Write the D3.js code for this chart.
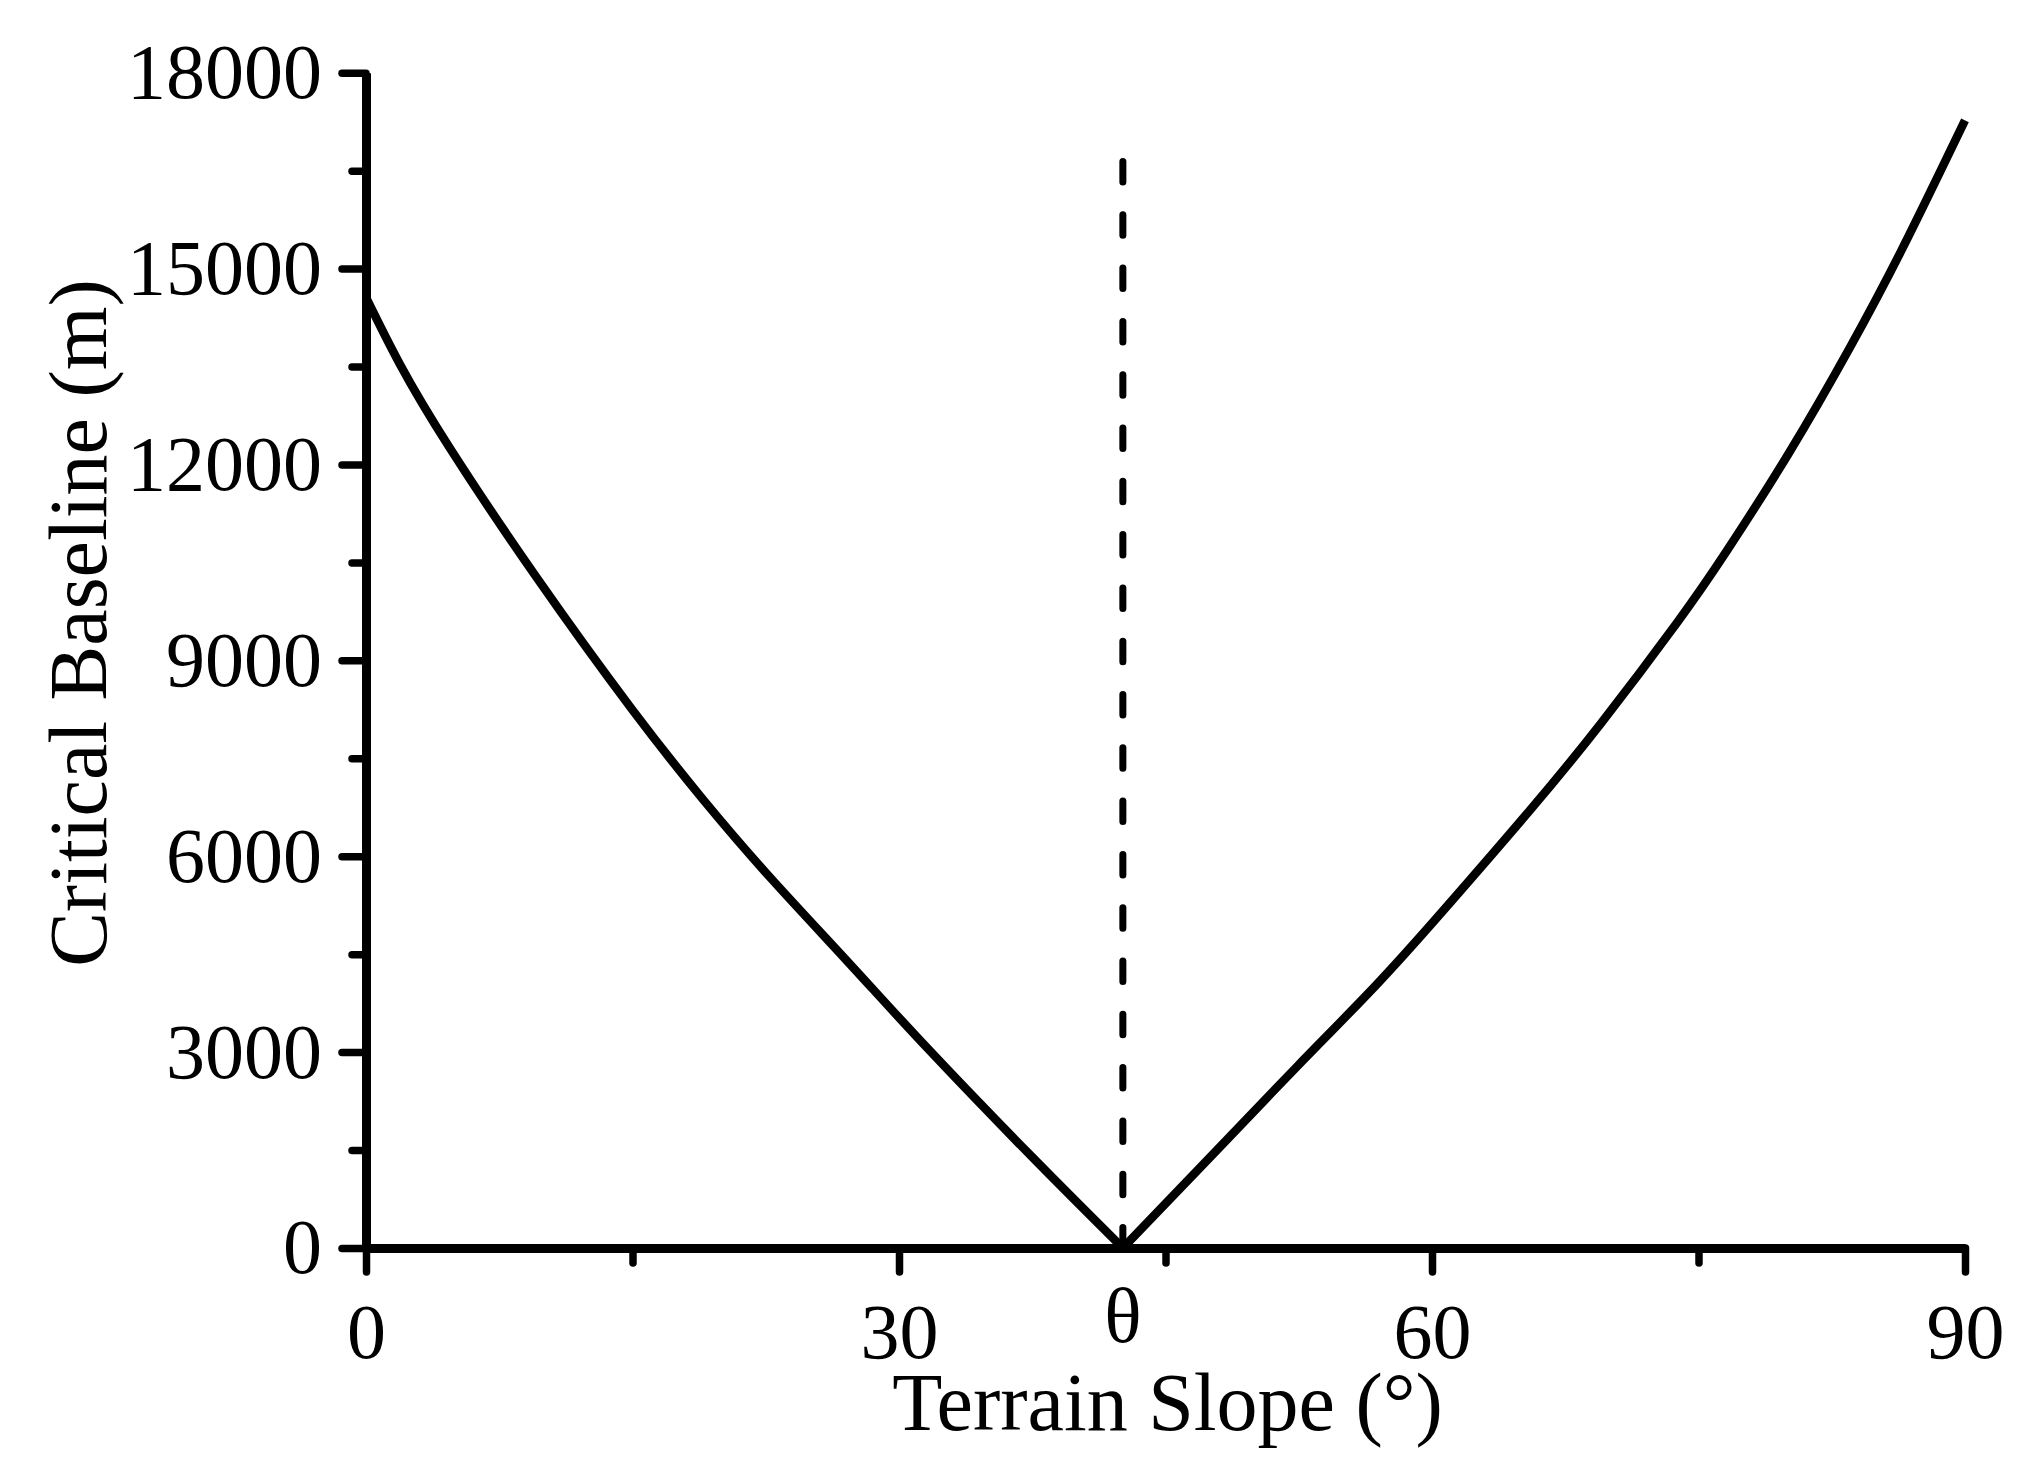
<!DOCTYPE html>
<html lang="en">
<head>
<meta charset="UTF-8">
<title>Critical Baseline vs Terrain Slope</title>
<script src="https://d3js.org/d3.v7.min.js"></script>
<style>
    body { margin: 0; background: #fff; }
    svg text { font-family: "Liberation Serif", "Times New Roman", serif; fill: #000; }
    .axis path, .axis line { stroke: #000; }
</style>
</head>
<body>
<div id="chart"></div>
<script>
    // values
    const slopeLeft = [0, 1.9, 4.7, 9.6, 15.0, 19.0, 22.7, 27.2, 31.6, 37.4, 42.6];
    const baselineLeft = [14560, 13540, 12260, 10270, 8240, 6860, 5690, 4360, 3060, 1420, 0];
    const slopeRight = [42.6, 47.9, 52.4, 56.9, 60.8, 65.5, 69.5, 73.8, 76.6, 80.1, 83.5, 86.5, 90];
    const baselineRight = [0, 1500, 2778, 4040, 5220, 6700, 8032, 9580, 10680, 12180, 13780, 15320, 17270];
    const xTicks = [0, 30, 60, 90];
    const xMinorTicks = [15, 45, 75];
    const yTicks = [0, 3000, 6000, 9000, 12000, 15000, 18000];
    const yMinorTicks = [1500, 4500, 7500, 10500, 13500, 16500];
    const theta = 42.6;
    const dashTop = 16800;

    const W = 2043, H = 1476;
    const plotLeft = 366, plotRight = 1965, plotTop = 72.7, plotBottom = 1248;

    const svg = d3.select("#chart").append("svg")
        .attr("width", W).attr("height", H);

    const x = d3.scaleLinear().domain([0, 90]).range([plotLeft, plotRight]);
    const y = d3.scaleLinear().domain([0, 18000]).range([plotBottom, plotTop]);

    // y axis
    svg.append("g").attr("class", "axis")
        .attr("transform", `translate(${plotLeft},0)`)
        .call(d3.axisLeft(y).tickValues(yTicks).tickSize(24).tickSizeOuter(0).tickPadding(20).tickFormat(d3.format("d")));
    svg.append("g").attr("class", "axis minor")
        .attr("transform", `translate(${plotLeft},0)`)
        .call(d3.axisLeft(y).tickValues(yMinorTicks).tickSize(14).tickSizeOuter(0).tickFormat(""))
        .select(".domain").remove();

    // x axis
    svg.append("g").attr("class", "axis")
        .attr("transform", `translate(0,${plotBottom})`)
        .call(d3.axisBottom(x).tickValues(xTicks).tickSize(24).tickSizeOuter(0).tickPadding(31));
    svg.append("g").attr("class", "axis minor")
        .attr("transform", `translate(0,${plotBottom})`)
        .call(d3.axisBottom(x).tickValues(xMinorTicks).tickSize(15).tickSizeOuter(0).tickFormat(""))
        .select(".domain").remove();

    svg.selectAll(".axis .domain").attr("stroke-width", 9);
    svg.selectAll(".axis .tick line").attr("stroke-width", 7.5).attr("stroke-linecap", "round");
    svg.selectAll(".axis text").attr("font-size", 78);

    // theta marker label
    svg.append("text")
        .attr("x", x(theta)).attr("y", 1342)
        .attr("text-anchor", "middle").attr("font-size", 78)
        .text("θ");

    // dashed line at theta
    svg.append("line")
        .attr("x1", x(theta)).attr("x2", x(theta))
        .attr("y1", y(0)).attr("y2", y(dashTop))
        .attr("stroke", "#000").attr("stroke-width", 7)
        .attr("stroke-dasharray", "20.5,32.8").attr("stroke-linecap", "round");

    // curve (two branches meeting at theta)
    const line = d3.line().x(d => x(d[0])).y(d => y(d[1])).curve(d3.curveNatural);
    const ptsL = slopeLeft.map((s, i) => [s, baselineLeft[i]]);
    const ptsR = slopeRight.map((s, i) => [s, baselineRight[i]]);
    svg.append("path")
        .attr("d", line(ptsL) + line(ptsR))
        .attr("fill", "none").attr("stroke", "#000")
        .attr("stroke-width", 8.5).attr("stroke-linejoin", "round");

    // axis titles
    svg.append("text")
        .attr("x", (plotLeft + plotRight) / 2 + 2).attr("y", 1430)
        .attr("text-anchor", "middle").attr("font-size", 82)
        .text("Terrain Slope (°)");

    svg.append("text")
        .attr("transform", "translate(106,623) rotate(-90)")
        .attr("text-anchor", "middle").attr("font-size", 82)
        .text("Critical Baseline (m)");
</script>
</body>
</html>
